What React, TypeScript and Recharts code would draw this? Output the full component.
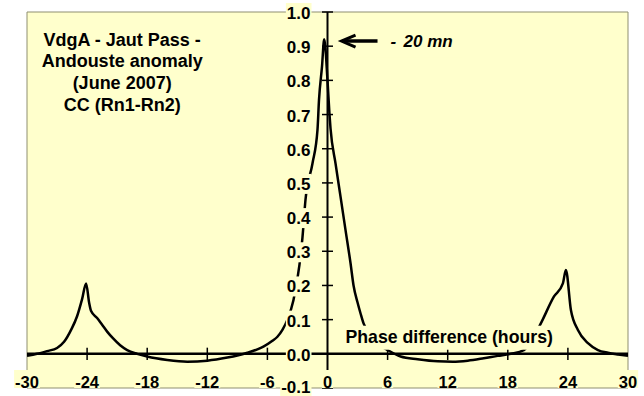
import { CartesianGrid, Line, LineChart, ReferenceDot, ReferenceLine, XAxis, YAxis } from 'recharts';

// cross-correlation Rn1-Rn2 vs phase shift
const HOURS = [
  -30, -29, -28, -27, -26.3, -25.6, -25, -24.5, -24.1, -23.8, -23.6, -23, -22.5, -22, -21.4, -20.7, -20, -19,
  -18, -16, -14, -12, -10, -9, -8, -7, -6.4, -5.5, -5, -4.5, -4, -3.4, -2.8, -2.5, -2.2, -1.5, -1.0, -0.85,
  -0.55, -0.33, 0, 0.2, 0.3, 0.8, 1.3, 1.8, 2.3, 2.6, 3.0, 3.3, 3.6, 4.2, 5, 6, 7.3, 9, 11, 12.5, 14, 15.6,
  17, 18.3, 19.6, 20.5, 21.3, 22.6, 23.5, 23.8, 24.3, 25, 26, 27, 28, 29, 30,
];
const CC = [
  -0.006, 0.0, 0.008, 0.017, 0.035, 0.07, 0.11, 0.16, 0.206, 0.15, 0.125, 0.105, 0.085, 0.065, 0.045, 0.025,
  0.011, 0.0, -0.008, -0.018, -0.023, -0.02, -0.011, -0.005, 0.003, 0.013, 0.021, 0.038, 0.05, 0.07, 0.1,
  0.157, 0.26, 0.34, 0.45, 0.557, 0.655, 0.742, 0.84, 0.92, 0.8, 0.7, 0.66, 0.557, 0.46, 0.362, 0.265, 0.2,
  0.15, 0.118, 0.089, 0.06, 0.03, 0.011, -0.008, -0.016, -0.022, -0.023, -0.02, -0.013, -0.006, 0.0, 0.011,
  0.045, 0.089, 0.167, 0.206, 0.245, 0.128, 0.07, 0.031, 0.011, 0.003, -0.002, -0.006,
];

const X_TICKS = [-30, -24, -18, -12, -6, 0, 6, 12, 18, 24, 30];
const X_LABELS = ['-30', '-24', '-18', '-12', '-6', '0', '6', '12', '18', '24', '30'];
const Y_TICKS = [-0.1, 0, 0.1, 0.2, 0.3, 0.4, 0.5, 0.6, 0.7, 0.8, 0.9, 1.0];
const Y_LABELS = ['-0.1', '0.0', '0.1', '0.2', '0.3', '0.4', '0.5', '0.6', '0.7', '0.8', '0.9', '1.0'];

const TITLE = ['VdgA - Jaut Pass -', 'Andouste anomaly', '(June 2007)', 'CC (Rn1-Rn2)'];
const X_TITLE = 'Phase difference (hours)';
const NOTE = '20 mn';

const BG = '#FFFFCC';
const GRID = '#8F8F70';
const FONT = '"Liberation Sans", Arial, sans-serif';

const data = HOURS.map((h, i) => ({ h, cc: CC[i] }));

// rough width of bold Arial text, used to size the label backgrounds
function textW(s: string, size: number) {
  let w = 0;
  for (const c of s) w += c === '.' ? 0.278 : c === '-' ? 0.333 : 0.556;
  return w * size;
}

const YLabel = (label: string) => (p: any) => {
  const w = textW(label, 17);
  // bottom label would fall off the page otherwise
  const dy = label === '-0.1' ? -0.5 : 1.5;
  return (
    <g>
      <rect x={p.cx - 17 - w - 1} y={p.cy - 9} width={w + 2} height={20} fill={BG} />
      <text x={p.cx - 17} y={p.cy + dy} textAnchor="end" dominantBaseline="central"
        fontFamily={FONT} fontWeight="bold" fontSize={17} fill="#000">{label}</text>
    </g>
  );
};

const XLabel = (label: string) => (p: any) => {
  const w = textW(label, 16.5);
  return (
    <g>
      <rect x={p.cx - w / 2 - 1} y={p.cy - 18} width={w + 2} height={18} fill={BG} />
      <text x={p.cx} y={p.cy - 6} textAnchor="middle" dominantBaseline="central"
        fontFamily={FONT} fontWeight="bold" fontSize={16.5} fill="#000">{label}</text>
    </g>
  );
};

const TitleBox = (p: any) => (
  <g>
    <rect x={p.cx - 82} y={p.cy - 48} width={164} height={108} fill={BG} />
    {TITLE.map((t, i) => (
      <text key={t} x={p.cx} y={p.cy - 34 + i * 21.8} textAnchor="middle" dominantBaseline="central"
        fontFamily={FONT} fontWeight="bold" fontSize={18} fill="#000">{t}</text>
    ))}
  </g>
);

const XTitle = (p: any) => (
  <g>
    <rect x={p.cx - 107} y={p.cy - 11} width={214} height={24} fill={BG} />
    <text x={p.cx} y={p.cy} textAnchor="middle" dominantBaseline="central"
      fontFamily={FONT} fontWeight="bold" fontSize={17.7} fill="#000">{X_TITLE}</text>
  </g>
);

// arrow pointing at the peak, anchored at the arrow tip
const Note = (p: any) => (
  <g>
    <rect x={p.cx - 6} y={p.cy - 13} width={128} height={29} fill={BG} />
    <line x1={p.cx + 2} y1={p.cy} x2={p.cx + 37} y2={p.cy} stroke="#000" strokeWidth={3.5} />
    <path d={`M${p.cx + 15},${p.cy - 6} L${p.cx + 1},${p.cy} L${p.cx + 15},${p.cy + 6}`}
      fill="none" stroke="#000" strokeWidth={3} />
    <text x={p.cx + 50} y={p.cy} dominantBaseline="central" fontFamily={FONT} fontWeight="bold"
      fontStyle="italic" fontSize={17} fill="#000">-</text>
    <text x={p.cx + 63} y={p.cy} dominantBaseline="central" fontFamily={FONT} fontWeight="bold"
      fontStyle="italic" fontSize={17} fill="#000">{NOTE}</text>
  </g>
);

export default function App() {
  return (
    <div style={{ position: 'absolute', left: 0, top: 0, width: 644, height: 396, background: '#fff' }}>
      <LineChart width={644} height={396} data={data} margin={{ top: 12, right: 16, bottom: 8, left: 27 }}>
        <CartesianGrid stroke={GRID} fill={BG} />
        <XAxis dataKey="h" type="number" domain={[-30, 30]} ticks={X_TICKS} tick={false}
          axisLine={false} tickLine={false} height={0} allowDataOverflow />
        <YAxis type="number" domain={[-0.1, 1.0]} ticks={Y_TICKS} tick={false}
          axisLine={false} tickLine={false} width={0} allowDataOverflow />
        <ReferenceLine y={0} stroke="#000" strokeWidth={2.5} />
        <ReferenceLine x={0} stroke="#000" strokeWidth={2} />
        {X_TICKS.filter((t) => t !== 0 && Math.abs(t) !== 30).map((t) => (
          <ReferenceLine key={`xt${t}`} segment={[{ x: t, y: -0.018 }, { x: t, y: 0.018 }]}
            stroke="#000" strokeWidth={1.5} />
        ))}
        {Y_TICKS.map((t) => (
          <ReferenceLine key={`yt${t}`} segment={[{ x: -0.55, y: t }, { x: 0.55, y: t }]}
            stroke="#000" strokeWidth={1.5} />
        ))}
        <Line type="monotone" dataKey="cc" stroke="#000" strokeWidth={2.5} dot={false}
          isAnimationActive={false} />
        {Y_TICKS.map((t, i) => (
          <ReferenceDot key={`yl${t}`} x={0} y={t} r={0} shape={YLabel(Y_LABELS[i])} />
        ))}
        {X_TICKS.map((t, i) => (
          <ReferenceDot key={`xl${t}`} x={t} y={-0.1} r={0} shape={XLabel(X_LABELS[i])} />
        ))}
        <ReferenceDot x={-20.5} y={0.82} r={0} shape={TitleBox} />
        <ReferenceDot x={12.15} y={0.05} r={0} shape={XTitle} />
        <ReferenceDot x={1.3} y={0.915} r={0} shape={Note} />
      </LineChart>
    </div>
  );
}
